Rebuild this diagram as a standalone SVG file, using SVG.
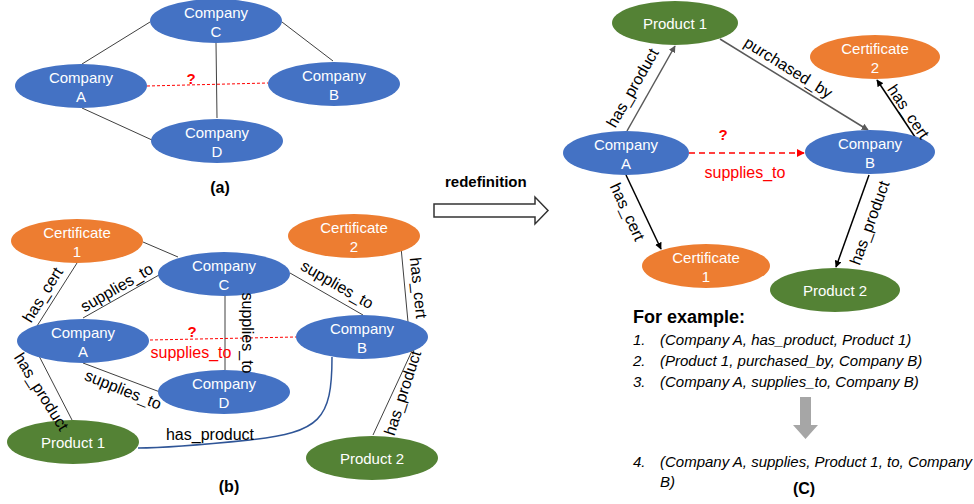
<svg xmlns="http://www.w3.org/2000/svg" width="974" height="504" viewBox="0 0 974 504">
<defs>
<style>
text{font-family:"Liberation Sans",Arial,sans-serif;}
.nt{fill:#fff;font-size:15px;text-anchor:middle;}
.blue{fill:#4472C4;}
.orange{fill:#ED7D31;}
.green{fill:#548235;}
.e{stroke:#404040;stroke-width:1;fill:none;}
.rd{stroke:#FF0000;stroke-width:1;stroke-dasharray:3,2;fill:none;}
.lb{font-size:16px;fill:#000;text-anchor:middle;}
.red{fill:#FF0000;text-anchor:middle;}
.q{font-size:15px;font-weight:bold;}
.cap{font-size:16px;font-weight:bold;text-anchor:middle;fill:#000;}
.ag{stroke:#595959;stroke-width:1.5;fill:none;}
.ab{stroke:#000;stroke-width:1.5;fill:none;}
.li{font-size:15px;font-style:italic;fill:#000;}
</style>
<marker id="mg" viewBox="0 0 10 10" refX="9" refY="5" markerWidth="7" markerHeight="7" orient="auto" markerUnits="userSpaceOnUse"><path d="M0,0 L10,5 L0,10 z" fill="#595959"/></marker>
<marker id="mb" viewBox="0 0 10 10" refX="9" refY="5" markerWidth="7" markerHeight="7" orient="auto" markerUnits="userSpaceOnUse"><path d="M0,0 L10,5 L0,10 z" fill="#000"/></marker>
<marker id="mr" viewBox="0 0 10 10" refX="9" refY="5" markerWidth="8" markerHeight="8" orient="auto" markerUnits="userSpaceOnUse"><path d="M0,0 L10,5 L0,10 z" fill="#FF0000"/></marker>
</defs>
<rect width="974" height="504" fill="#fff"/>

<!-- connectors -->
<g id="connectors">
  <!-- panel a -->
  <line class="e" x1="82" y1="64" x2="150" y2="22"/>
  <line class="e" x1="282" y1="22" x2="333" y2="61"/>
  <line class="e" x1="216" y1="43" x2="217" y2="118"/>
  <line class="e" x1="82" y1="108" x2="152" y2="140"/>
  <line class="rd" x1="147" y1="86" x2="268" y2="83"/>
  <!-- panel b -->
  <line class="e" x1="143" y1="242" x2="178" y2="257"/>
  <line class="e" x1="77" y1="263" x2="37" y2="326"/>
  <line class="e" x1="83" y1="318" x2="159" y2="275"/>
  <line class="e" x1="290" y1="273" x2="363" y2="315"/>
  <line class="e" x1="225" y1="295" x2="225" y2="370"/>
  <line class="e" x1="83" y1="363" x2="160" y2="392"/>
  <line class="e" x1="37" y1="352" x2="72" y2="420"/>
  <line class="e" x1="401" y1="247" x2="408" y2="322"/>
  <line class="e" x1="411" y1="353" x2="373" y2="435"/>
  <path d="M332,357 C332,420 320,432 250,440 C200,445 160,448 138,448" stroke="#2F5597" stroke-width="1.5" fill="none"/>
  <line class="rd" x1="150" y1="340" x2="296" y2="337"/>
  <!-- panel c -->
  <line class="ag" x1="627" y1="131" x2="675" y2="46" marker-end="url(#mg)"/>
  <line class="ag" x1="720" y1="39" x2="868" y2="130" marker-end="url(#mg)"/>
  <line class="ab" x1="915" y1="137" x2="877" y2="80" marker-end="url(#mb)"/>
  <line class="ab" x1="626" y1="175" x2="661" y2="249" marker-end="url(#mb)"/>
  <line class="ab" x1="869" y1="175" x2="836" y2="267" marker-end="url(#mb)"/>
  <line x1="689" y1="153" x2="804" y2="153" stroke="#FF0000" stroke-width="1.5" stroke-dasharray="6,4" marker-end="url(#mr)"/>
</g>

<!-- panel a nodes -->
<g id="a-companyC"><ellipse class="blue" cx="216" cy="21" rx="66" ry="22"/><text class="nt" x="216" y="18">Company</text><text class="nt" x="216" y="37">C</text></g>
<g id="a-companyA"><ellipse class="blue" cx="81" cy="86" rx="66" ry="22"/><text class="nt" x="81" y="83">Company</text><text class="nt" x="81" y="102">A</text></g>
<g id="a-companyB"><ellipse class="blue" cx="334" cy="84" rx="66" ry="22"/><text class="nt" x="334" y="81">Company</text><text class="nt" x="334" y="100">B</text></g>
<g id="a-companyD"><ellipse class="blue" cx="217" cy="141" rx="66" ry="22"/><text class="nt" x="217" y="138">Company</text><text class="nt" x="217" y="157">D</text></g>
<text class="cap" x="220" y="193">(a)</text>

<!-- panel b nodes -->
<g id="b-cert1"><ellipse class="orange" cx="77" cy="241" rx="66" ry="22"/><text class="nt" x="77" y="238">Certificate</text><text class="nt" x="77" y="257">1</text></g>
<g id="b-cert2"><ellipse class="orange" cx="354" cy="236" rx="66" ry="22"/><text class="nt" x="354" y="233">Certificate</text><text class="nt" x="354" y="252">2</text></g>
<g id="b-companyC"><ellipse class="blue" cx="224" cy="274" rx="66" ry="22"/><text class="nt" x="224" y="271">Company</text><text class="nt" x="224" y="290">C</text></g>
<g id="b-companyA"><ellipse class="blue" cx="83" cy="341" rx="66" ry="22"/><text class="nt" x="83" y="338">Company</text><text class="nt" x="83" y="357">A</text></g>
<g id="b-companyB"><ellipse class="blue" cx="362" cy="337" rx="66" ry="22"/><text class="nt" x="362" y="334">Company</text><text class="nt" x="362" y="353">B</text></g>
<g id="b-companyD"><ellipse class="blue" cx="224" cy="392" rx="66" ry="22"/><text class="nt" x="224" y="389">Company</text><text class="nt" x="224" y="408">D</text></g>
<g id="b-product1"><ellipse class="green" cx="73" cy="442" rx="66" ry="22"/><text class="nt" x="73" y="448">Product 1</text></g>
<g id="b-product2"><ellipse class="green" cx="372" cy="458" rx="66" ry="22"/><text class="nt" x="372" y="464">Product 2</text></g>
<text class="cap" x="229" y="492">(b)</text>

<!-- redefinition arrow -->
<g id="redefinition">
  <text x="445" y="187" font-size="15" font-weight="bold" fill="#000">redefinition</text>
  <polygon points="434,204 535,204 535,197 548,210.5 535,224 535,217 434,217" fill="#fff" stroke="#333" stroke-width="1.5"/>
</g>

<!-- panel c nodes -->
<g id="c-product1"><ellipse class="green" cx="675" cy="23" rx="63" ry="22"/><text class="nt" x="675" y="29">Product 1</text></g>
<g id="c-cert2"><ellipse class="orange" cx="875" cy="57" rx="65" ry="22"/><text class="nt" x="875" y="54">Certificate</text><text class="nt" x="875" y="73">2</text></g>
<g id="c-companyA"><ellipse class="blue" cx="626" cy="153" rx="63" ry="22"/><text class="nt" x="626" y="150">Company</text><text class="nt" x="626" y="169">A</text></g>
<g id="c-companyB"><ellipse class="blue" cx="870" cy="152" rx="65" ry="22"/><text class="nt" x="870" y="149">Company</text><text class="nt" x="870" y="168">B</text></g>
<g id="c-cert1"><ellipse class="orange" cx="706" cy="266" rx="64" ry="22"/><text class="nt" x="706" y="263">Certificate</text><text class="nt" x="706" y="282">1</text></g>
<g id="c-product2"><ellipse class="green" cx="835" cy="290" rx="65" ry="22"/><text class="nt" x="835" y="296">Product 2</text></g>

<!-- edge labels (drawn over nodes, as in the reference) -->
<g id="labels">
  <text class="red q" x="191" y="84">?</text>
  <text class="lb" transform="translate(43,295) rotate(-58)" y="5">has_cert</text>
  <text class="lb" transform="translate(117,288) rotate(-30)" y="5">supplies_to</text>
  <text class="lb" transform="translate(337,285) rotate(30)" y="5">supplies_to</text>
  <text class="lb" transform="translate(247,333) rotate(90)" y="5">supplies_to</text>
  <text class="lb" transform="translate(123,390) rotate(22)" y="5">supplies_to</text>
  <text class="lb" transform="translate(41,392) rotate(58)" y="5">has_product</text>
  <text class="lb" transform="translate(418,288) rotate(84)" y="5">has_cert</text>
  <text class="lb" transform="translate(403,393) rotate(-72)" y="5">has_product</text>
  <text class="lb" x="210" y="440">has_product</text>
  <text class="red q" x="192" y="337">?</text>
  <text class="red" x="191" y="358" font-size="16">supplies_to</text>

  <text class="lb" transform="translate(633,88) rotate(-60)" y="5">has_product</text>
  <text class="lb" transform="translate(788,68) rotate(32)" y="5">purchased_by</text>
  <text class="lb" transform="translate(908,112) rotate(56)" y="5">has_cert</text>
  <text class="lb" transform="translate(627,212) rotate(65)" y="5">has_cert</text>
  <text class="lb" transform="translate(870,223) rotate(-70)" y="5">has_product</text>
  <text class="red q" x="723" y="140">?</text>
  <text class="red" x="745" y="178" font-size="16">supplies_to</text>
</g>

<!-- example text -->
<g id="example">
  <text x="633" y="323" font-size="18" font-weight="bold" fill="#000">For example:</text>
  <text class="li" x="633" y="345">1.</text><text class="li" x="660" y="345">(Company A, has_product, Product 1)</text>
  <text class="li" x="633" y="366">2.</text><text class="li" x="660" y="366">(Product 1, purchased_by, Company B)</text>
  <text class="li" x="633" y="387">3.</text><text class="li" x="660" y="387">(Company A, supplies_to, Company B)</text>
  <polygon points="800,397 811,397 811,425 818,425 805.5,439 793,425 800,425" fill="#A6A6A6"/>
  <text class="li" x="633" y="467">4.</text><text class="li" x="660" y="467">(Company A, supplies, Product 1, to, Company</text>
  <text class="li" x="660" y="487">B)</text>
  <text class="cap" x="804" y="494">(C)</text>
</g>
</svg>
